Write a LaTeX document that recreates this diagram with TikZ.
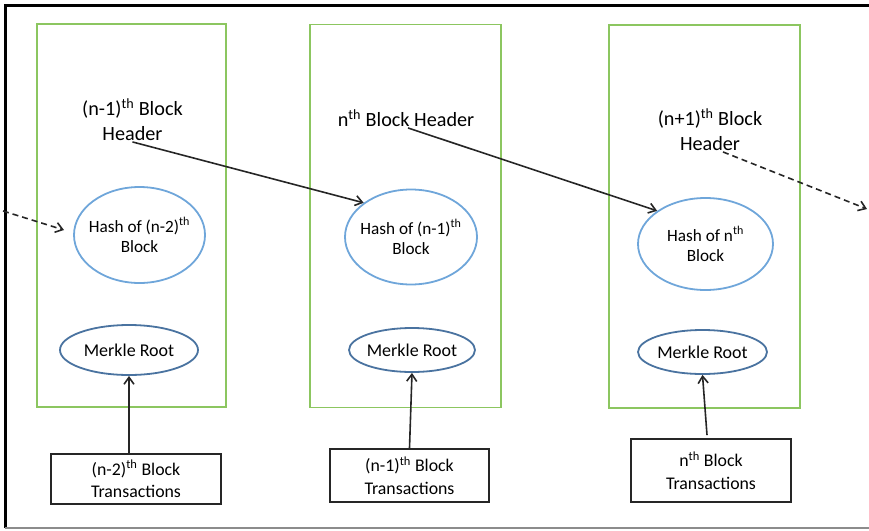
\documentclass[tikz,border=0pt]{standalone}
\usepackage{fontspec}
\setmainfont{Carlito}
\usetikzlibrary{arrows.meta,shapes.geometric}
\definecolor{blockgreen}{HTML}{8CC660}
\definecolor{hashblue}{HTML}{6FA6DA}
\definecolor{rootblue}{HTML}{4A73A0}
\begin{document}
\begin{tikzpicture}[x=1pt,y=-1pt,
  blockbox/.style={draw=blockgreen,line width=1.7pt,minimum width=#1,minimum height=383pt,inner sep=0pt},
  hashell/.style={ellipse,draw=hashblue,line width=1.8pt,inner sep=0pt},
  hashtxt/.style={align=center,font=\fontsize{17.2}{20.5}\selectfont},
  rootell/.style={ellipse,draw=rootblue,line width=1.8pt,inner sep=0pt},
  roottxt/.style={font=\fontsize{18}{20}\selectfont},
  hdr/.style={align=center,inner sep=1pt,font=\fontsize{20.2}{25}\selectfont},
  txbox/.style={draw=black!85,line width=1.9pt,align=center,inner sep=0pt,font=\fontsize{17.8}{22.5}\selectfont},
  link/.style={draw=black!85,line width=1.6pt,-{Straight Barb[length=7pt,width=10pt]}},
  dlink/.style={link,dashed,dash pattern=on 6pt off 4pt}
]
\useasboundingbox (0,0) rectangle (869,530);
% outer frame
\draw[black,line width=3pt] (869,5) -- (5,5) -- (5,528);
\draw[black!45,line width=1.8pt] (5,528) -- (869,528);

% blocks
\node[blockbox=189pt] (b1) at (131.5,215.5) {};
\node[blockbox=191pt] (b2) at (405.5,216) {};
\node[blockbox=191pt] (b3) at (704.5,216.5) {};

% headers
\node[hdr] (h1) at (132.5,119.5) {(n-1)\textsuperscript{th} Block\\Header};
\node[hdr] (h2) at (406,118) {n\textsuperscript{th} Block Header};
\node[hdr] (h3) at (710,129.5) {(n+1)\textsuperscript{th} Block\\Header};

% hash ellipses
\node[hashell,minimum width=131pt,minimum height=96pt,label={[hashtxt]center:Hash of (n-2)\textsuperscript{th}\\Block}] (hash1) at (139.5,235) {};
\node[hashell,minimum width=132pt,minimum height=95pt,label={[hashtxt]center:Hash of (n-1)\textsuperscript{th}\\Block}] (hash2) at (411,237) {};
\node[hashell,minimum width=135pt,minimum height=92pt,label={[hashtxt]center:Hash of n\textsuperscript{th}\\Block}] (hash3) at (705.5,244) {};

% merkle roots
\node[rootell,minimum width=138pt,minimum height=50pt,label={[roottxt]center:Merkle Root}] (m1) at (129,350) {};
\node[rootell,minimum width=126pt,minimum height=44pt,label={[roottxt]center:Merkle Root}] (m2) at (412,350) {};
\node[rootell,minimum width=129pt,minimum height=44pt,label={[roottxt]center:Merkle Root}] (m3) at (702.5,352) {};

% transactions
\node[txbox,minimum width=170pt,minimum height=50pt] (t1) at (136,479) {(n-2)\textsuperscript{th} Block\\Transactions};
\node[txbox,minimum width=159pt,minimum height=53pt] (t2) at (409.5,475.5) {(n-1)\textsuperscript{th} Block\\Transactions};
\node[txbox,minimum width=160pt,minimum height=63pt] (t3) at (711,470.5) {n\textsuperscript{th} Block\\Transactions};

% chain links
\coordinate (in1) at (3,211);
\coordinate (in1e) at (64,230);
\coordinate (out3) at (867,209);
\draw[dlink] (in1) -- (in1e);
\draw[link] (h1.south) -- (hash2.north west);
\draw[link] ([xshift=2pt]h2.south) -- (hash3.north west);
\draw[dlink] ([xshift=13pt]h3.south) -- (out3);

% transactions to merkle roots
\draw[link] (t1.north -| m1.south) -- (m1.south);
\draw[link] (t2.north) -- (m2.south);
\draw[link] ([xshift=-4pt,yshift=3pt]t3.north) -- (m3.south);
\end{tikzpicture}
\end{document}
